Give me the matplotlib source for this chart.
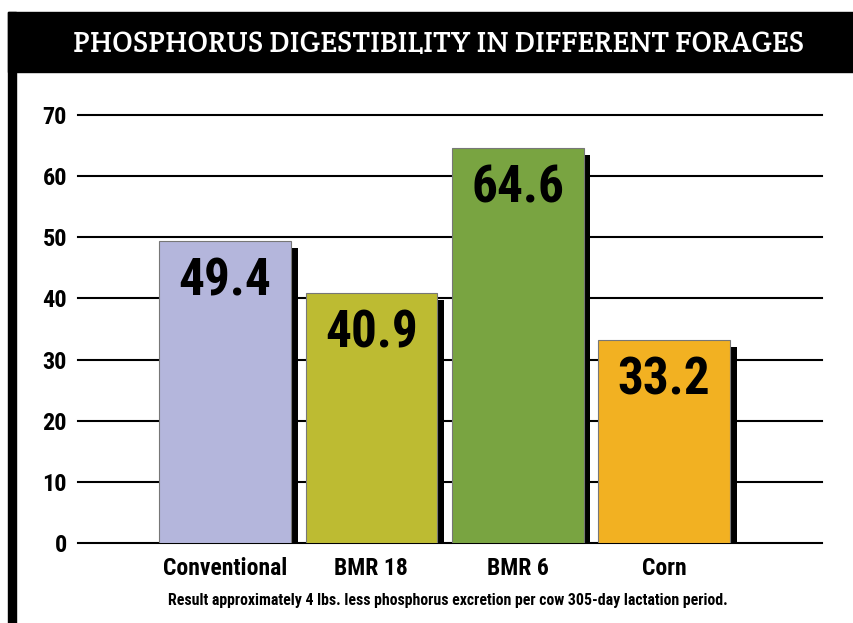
import matplotlib
matplotlib.use("Agg")
import matplotlib.pyplot as plt
import matplotlib.patheffects as pe
from matplotlib.patches import Rectangle

# data
categories = ["Conventional", "BMR 18", "BMR 6", "Corn"]
values = [49.4, 40.9, 64.6, 33.2]
colors = ["#B4B6DC", "#BDBB32", "#79A441", "#F2B122"]
yticks = [0, 10, 20, 30, 40, 50, 60, 70]
title = "PHOSPHORUS DIGESTIBILITY IN DIFFERENT FORAGES"
note = "Result approximately 4 lbs. less phosphorus excretion per cow 305-day lactation period."

narrow = ["Roboto Condensed", "DejaVu Sans"]
slab = ["Crete Round", "DejaVu Serif"]

W, H = 854, 623
fig = plt.figure(figsize=(W / 100, H / 100), dpi=100)

# frame: black header band and left bar
fig.patches.append(Rectangle((8 / W, 1 - 72 / H), 1 - 8 / W, 60 / H,
                             transform=fig.transFigure, color="black", zorder=0))
fig.patches.append(Rectangle((8 / W, 0), 8 / W, 1 - 12 / H,
                             transform=fig.transFigure, color="black", zorder=0))
fig.text(0.514, 1 - 44 / H, title, color="white", ha="center", va="center",
         fontsize=21.5, family=slab)

ax = fig.add_axes([78 / W, 80 / H, (822 - 78) / W, (543 - 115) / H])
ax.set_xlim(-1.005, 4.08)
ax.set_ylim(0, 70)
for s in ax.spines.values():
    s.set_visible(False)

for t in yticks:
    ax.axhline(t, color="black", lw=1.5, clip_on=False, zorder=1)

x = range(len(categories))
bars = ax.bar(x, values, width=0.9, color=colors, edgecolor="#777777", lw=0.8, zorder=3)
for b in bars:
    b.set_path_effects([pe.SimplePatchShadow(offset=(5, -5), shadow_rgbFace="black", alpha=1),
                        pe.Normal()])

for xi, v in zip(x, values):
    ax.annotate(f"{v}", (xi, v), xytext=(0, -29), textcoords="offset points",
                ha="center", va="center", fontsize=37, fontweight="bold",
                family=narrow, zorder=4)

ax.set_xticks(list(x))
ax.set_xticklabels(categories, fontsize=17, fontweight="bold", family=narrow)
ax.set_yticks(yticks)
ax.set_yticklabels([str(t) for t in yticks], fontsize=17.5, fontweight="bold", family=narrow)
ax.tick_params(axis="x", length=0, pad=10)
ax.tick_params(axis="y", length=0, pad=8)

fig.text(0.525, 1 - 601 / H, note, ha="center", va="center", fontsize=11.4,
         fontweight="bold", family=narrow)

fig.savefig("out.png", dpi=100)
